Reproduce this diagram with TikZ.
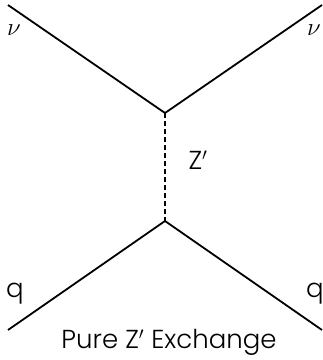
\documentclass[tikz,border=0pt]{standalone}
\usepackage{fontspec}
\setmainfont{Poppins Light}
\begin{document}
\begin{tikzpicture}[x=1pt,y=-1pt,
  fermion/.style={line width=1.8pt},
  boson/.style={line width=1.8pt,dash pattern=on 5pt off 3pt},
  lbl/.style={inner sep=0pt,font=\fontsize{26}{28}\selectfont},
  mlbl/.style={inner sep=0pt,font=\fontsize{28}{30}\selectfont}]
\useasboundingbox (0,0) rectangle (323,360);
\coordinate (tl) at (8,5);
\coordinate (tr) at (322,5);
\coordinate (vt) at (165,113);
\coordinate (vb) at (165,221);
\coordinate (bl) at (8,330);
\coordinate (br) at (322,330);
\draw[fermion] (tl) -- (vt) -- (tr);
\draw[fermion] (bl) -- (vb) -- (br);
\draw[boson] (vt) -- (vb);
\node[mlbl] (nul) at (14,30) {$\nu$};
\node[mlbl] (nur) at (314,30) {$\nu$};
\node[lbl] (ql) at (15,294) {q};
\node[lbl] (qr) at (315,294) {q};
\node[lbl] (zp) at (198,160) {Z$^{\prime}$};
\node[lbl] (title) at (169,342) {Pure Z$^{\prime}$ Exchange};
\end{tikzpicture}
\end{document}
